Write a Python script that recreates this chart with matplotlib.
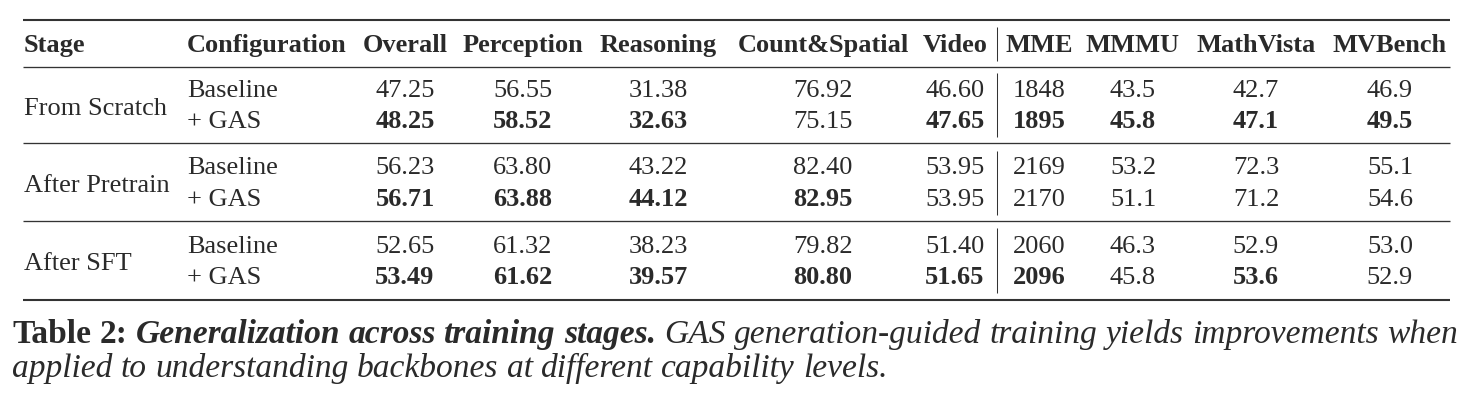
import matplotlib
matplotlib.use("Agg")
import matplotlib.pyplot as plt

plt.rcParams['font.family'] = ['Liberation Serif', 'DejaVu Serif']

# ---- table data ----
stages = ["From Scratch", "After Pretrain", "After SFT"]
configs = ["Baseline", "+ GAS"]
stage_col = "Stage"
config_col = "Configuration"
columns = ["Overall", "Perception", "Reasoning", "Count&Spatial", "Video",
           "MME", "MMMU", "MathVista", "MVBench"]

scratch_baseline = ["47.25", "56.55", "31.38", "76.92", "46.60", "1848", "43.5", "42.7", "46.9"]
scratch_gas = ["48.25", "58.52", "32.63", "75.15", "47.65", "1895", "45.8", "47.1", "49.5"]
pretrain_baseline = ["56.23", "63.80", "43.22", "82.40", "53.95", "2169", "53.2", "72.3", "55.1"]
pretrain_gas = ["56.71", "63.88", "44.12", "82.95", "53.95", "2170", "51.1", "71.2", "54.6"]
sft_baseline = ["52.65", "61.32", "38.23", "79.82", "51.40", "2060", "46.3", "52.9", "53.0"]
sft_gas = ["53.49", "61.62", "39.57", "80.80", "51.65", "2096", "45.8", "53.6", "52.9"]

# which "+ GAS" cells are bold
bold_scratch = [1, 1, 1, 0, 1, 1, 1, 1, 1]
bold_pretrain = [1, 1, 1, 1, 0, 0, 0, 0, 0]
bold_sft = [1, 1, 1, 1, 1, 1, 0, 1, 0]

caption_label = "Table 2:"
caption_title = "Generalization across training stages."
caption_line1 = "GAS generation-guided training yields improvements when"
caption_line2 = "applied to understanding backbones at different capability levels."

groups = [
    (scratch_baseline, scratch_gas, bold_scratch),
    (pretrain_baseline, pretrain_gas, bold_pretrain),
    (sft_baseline, sft_gas, bold_sft),
]

# ---- layout (pixels) ----
W, H = 1473, 407
TXT = '#2a2a2a'
RULE = '#333333'
FS = 19
col_x = [405, 523, 658, 823, 955, 1039, 1133, 1256, 1390]
x_stage, x_conf = 24, 187
x_left, x_right = 23, 1450
x_vline = 997
y_head = 52
row_base = [(97, 128.5), (174, 206), (253, 284)]
rules_mid = [143, 221]

fig = plt.figure(figsize=(W / 100, H / 100), dpi=100)
ax = fig.add_axes([0, 0, 1, 1])
ax.set_xlim(0, W)
ax.set_ylim(H, 0)
ax.axis('off')

def _rule(y, lw):
    ax.plot([x_left, x_right], [y, y], color=RULE, lw=lw, solid_capstyle='butt')

def _vline(y0, y1):
    ax.plot([x_vline, x_vline], [y0, y1], color=RULE, lw=0.75, solid_capstyle='butt')

# rules
_rule(20, 1.5)
_rule(67, 0.95)
for y in rules_mid:
    _rule(y, 0.95)
_rule(300, 1.5)

# vertical separator, broken around the rules
_vline(27, 61)
_vline(73, 137)
_vline(151, 215)
_vline(228, 293)

# header
ax.text(x_stage, y_head, stage_col, fontsize=FS, weight='bold', color=TXT, va='baseline')
ax.text(x_conf, y_head, config_col, fontsize=FS, weight='bold', color=TXT, va='baseline')
for cx, name in zip(col_x, columns):
    ax.text(cx, y_head, name, fontsize=FS, weight='bold', color=TXT,
            ha='center', va='baseline')

# body
for (base_vals, gas_vals, bold), stage, (yb, yg) in zip(groups, stages, row_base):
    ax.text(x_stage, (yb + yg) / 2 + 2, stage, fontsize=FS, color=TXT, va='baseline')
    ax.text(x_conf, yb, configs[0], fontsize=FS, color=TXT, va='baseline')
    ax.text(x_conf, yg, configs[1], fontsize=FS, color=TXT, va='baseline')
    for cx, v in zip(col_x, base_vals):
        ax.text(cx, yb, v, fontsize=FS, color=TXT, ha='center', va='baseline')
    for cx, v, b in zip(col_x, gas_vals, bold):
        ax.text(cx, yg, v, fontsize=FS, color=TXT, ha='center', va='baseline',
                weight='bold' if b else 'normal')

# caption: pieces placed left to right, then sized to span the line
cap_pieces1 = [(caption_label, 'bold', 'normal'),
               (caption_title, 'bold', 'italic'),
               (caption_line1, 'normal', 'italic')]
cap_x0, cap_x1 = 12, 1456
cap_y1, cap_y2 = 343, 377

renderer = fig.canvas.get_renderer()

def _width(t):
    bb = t.get_window_extent(renderer=renderer)
    return bb.width

def _place_line(pieces, y, fs):
    texts = []
    x = cap_x0
    for s, w, st in pieces:
        words = s.split(' ')
        for i, word in enumerate(words):
            t = ax.text(x, y, word, fontsize=fs, weight=w, style=st,
                        color=TXT, va='baseline')
            x += _width(t) + fs * 0.25 * 100 / 72
            texts.append(t)
    return texts, x

fs_cap = 22
texts, xend = _place_line(cap_pieces1, cap_y1, fs_cap)
span = xend - fs_cap * 0.25 * 100 / 72 - cap_x0
for t in texts:
    t.remove()
fs_cap = fs_cap * (cap_x1 - cap_x0) / span
_place_line(cap_pieces1, cap_y1, fs_cap)
_place_line([(caption_line2, 'normal', 'italic')], cap_y2, fs_cap)

fig.savefig('out.png', dpi=100)
